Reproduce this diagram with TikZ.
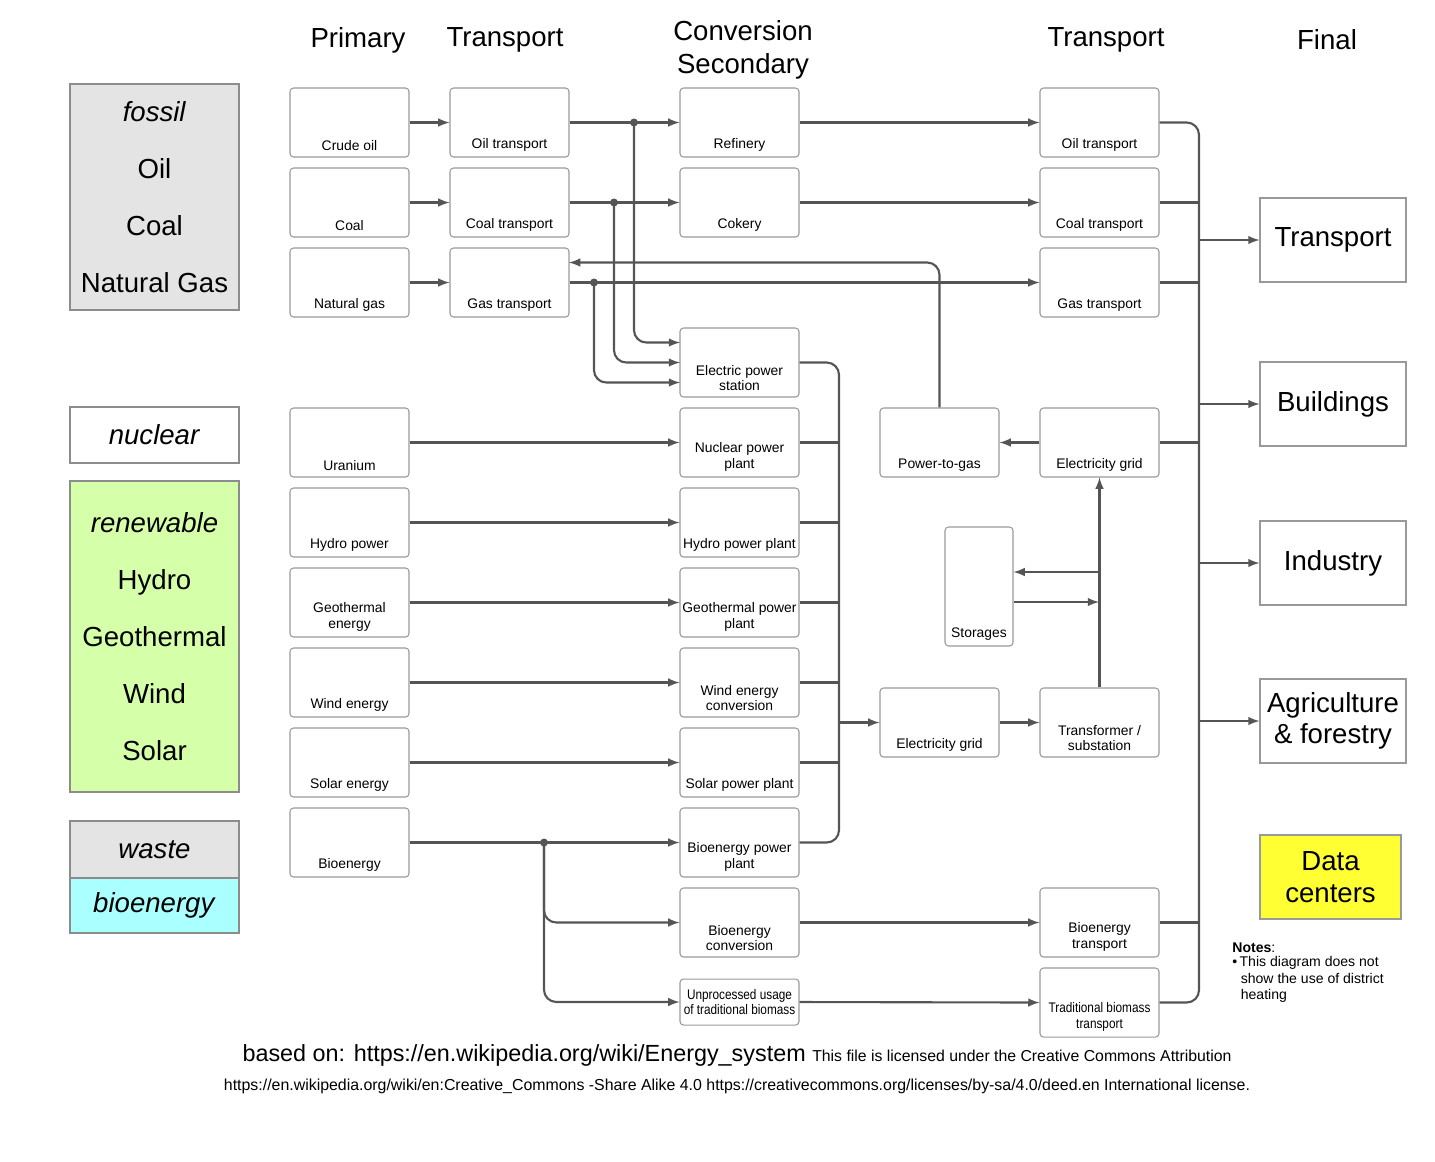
\documentclass[tikz,border=0pt]{standalone}
\usepackage{fontspec}
\setmainfont{Liberation Sans}
\usetikzlibrary{arrows,positioning}
\definecolor{lgray}{RGB}{228,228,228}
\definecolor{lgreen}{RGB}{214,255,170}
\definecolor{lcyan}{RGB}{170,255,255}
\definecolor{lyellow}{RGB}{255,255,51}
\definecolor{dline}{RGB}{85,85,85}
\tikzset{
  box/.style={draw=gray!80, rounded corners=2pt, minimum width=119*0.02cm, minimum height=69*0.02cm, inner sep=0pt, line width=0.6pt},
  lbl/.style={font=\fontsize{7.9}{9}\selectfont, align=center, inner sep=3.5pt, anchor=south},
  big/.style={draw=gray!80, minimum width=146*0.02cm, minimum height=84*0.02cm, inner sep=1pt, font=\fontsize{15.7}{18}\selectfont, align=center, line width=0.6pt},
  side/.style={draw=gray!90, minimum width=169*0.02cm, inner sep=0pt, font=\fontsize{15.7}{19}\selectfont, align=center, line width=0.6pt},
  head/.style={font=\fontsize{15.7}{19}\selectfont, align=center},
  line/.style={draw=dline, line width=1.2pt, rounded corners=7pt},
  arr/.style={line, -latex},
  dot/.style={circle, fill=dline, inner sep=0pt, minimum size=8*0.02cm}
}
\newcommand{\bx}[4]{\node[box, label={[lbl]south:#4}] (#1) at (#2,#3) {};}
\begin{document}
\begin{tikzpicture}[x=0.02cm, y=-0.02cm]
\useasboundingbox (0,0) rectangle (1435,1161);
% headers
\node[head] (hprim) at (358,40) {Primary};
\node[head] (htr1) at (505,40) {Transport};
\node[head] (hconv) at (743,50) {Conversion\\Secondary};
\node[head] (htr2) at (1106,40) {Transport};
\node[head] (hfin) at (1327,40) {Final};
% sources on the left
\node[side, fill=lgray, minimum height=226*0.02cm] (fossil) at (154.5,197) {\textit{fossil}\\[0.47cm]Oil\\[0.47cm]Coal\\[0.47cm]Natural Gas};
\node[side, fill=white, minimum height=56*0.02cm] (nuclear) at (154.5,435) {\textit{nuclear}};
\node[side, fill=lgreen, minimum height=311*0.02cm] (renew) at (154.5,636.5) {\textit{renewable}\\[0.47cm]Hydro\\[0.47cm]Geothermal\\[0.47cm]Wind\\[0.47cm]Solar};
\node[side, fill=lgray, minimum height=57*0.02cm] (waste) at (154.5,849.5) {\textit{waste}};
\node[side, fill=lcyan, minimum height=55*0.02cm] (bio) at (154.5,905.5) {\textit{bioenergy}};
% primary
\bx{crude}{349.5}{122.5}{Crude oil}
\bx{coal}{349.5}{202.5}{Coal}
\bx{ngas}{349.5}{282.5}{Natural gas}
\bx{uran}{349.5}{442.5}{Uranium}
\bx{hydro}{349.5}{522.5}{Hydro power}
\bx{geo}{349.5}{602.5}{Geothermal\\energy}
\bx{wind}{349.5}{682.5}{Wind energy}
\bx{solar}{349.5}{762.5}{Solar energy}
\bx{bioe}{349.5}{842.5}{Bioenergy}
% transport 1
\bx{oilt}{509.5}{122.5}{Oil transport}
\bx{coalt}{509.5}{202.5}{Coal transport}
\bx{gast}{509.5}{282.5}{Gas transport}
% conversion
\bx{refin}{739.5}{122.5}{Refinery}
\bx{coke}{739.5}{202.5}{Cokery}
\bx{eps}{739.5}{362.5}{Electric power\\station}
\bx{npp}{739.5}{442.5}{Nuclear power\\plant}
\bx{hpp}{739.5}{522.5}{Hydro power plant}
\bx{gpp}{739.5}{602.5}{Geothermal power\\plant}
\bx{wec}{739.5}{682.5}{Wind energy\\conversion}
\bx{spp}{739.5}{762.5}{Solar power plant}
\bx{bpp}{739.5}{842.5}{Bioenergy power\\plant}
\bx{bconv}{739.5}{922.5}{Bioenergy\\conversion}
\node[box, minimum height=46*0.02cm, font=\fontsize{7.9}{9}\selectfont\addfontfeature{FakeStretch=0.85}, align=center] (unproc) at (739.5,1002) {Unprocessed usage\\of traditional biomass};
% transport 2 and grid
\bx{oilt2}{1099.5}{122.5}{Oil transport}
\bx{coalt2}{1099.5}{202.5}{Coal transport}
\bx{gast2}{1099.5}{282.5}{Gas transport}
\bx{grid1}{1099.5}{442.5}{Electricity grid}
\bx{p2g}{939.5}{442.5}{Power-to-gas}
\node[box, minimum width=68*0.02cm, minimum height=119*0.02cm, label={[lbl]south:Storages}] (stor) at (979,586.5) {};
\bx{grid2}{939.5}{722.5}{Electricity grid}
\bx{trafo}{1099.5}{722.5}{Transformer /\\substation}
\bx{biot}{1099.5}{922.5}{Bioenergy\\transport}
\node[box, label={[lbl, font=\fontsize{7.9}{9}\selectfont\addfontfeature{FakeStretch=0.85}]south:Traditional biomass\\transport}] (tradt) at (1099.5,1002.5) {};
% final
\node[big] (ftrans) at (1333,240) {Transport};
\node[big] (fbuild) at (1333,404) {Buildings};
\node[big] (findu) at (1333,563) {Industry};
\node[big] (fagri) at (1333,721) {Agriculture\\\& forestry};
\node[big, fill=lyellow, minimum width=141*0.02cm] (fdata) at (1330.5,877) {Data\\centers};
% junctions
\coordinate (jo) at (634,122.5);
\coordinate (jc) at (614,202.5);
\coordinate (jg) at (594,282.5);
\coordinate (jb) at (544,842.5);
\coordinate (ein1) at (680,342.5);
\coordinate (ein2) at (680,362.5);
\coordinate (ein3) at (680,382.5);
\coordinate (gin) at (569,262.5);
\coordinate (busl) at (839,842.5);
\coordinate (busr) at (1199,1002.5);
\coordinate (s1) at (1099,572);
\coordinate (s2) at (1099,602);
% fossil chains
\draw[arr] (crude.east) -- (oilt.west);
\draw[arr] (coal.east) -- (coalt.west);
\draw[arr] (ngas.east) -- (gast.west);
\draw[arr] (oilt.east) -- (refin.west);
\draw[arr] (coalt.east) -- (coke.west);
\draw[arr] (refin.east) -- (oilt2.west);
\draw[arr] (coke.east) -- (coalt2.west);
\draw[arr] (gast.east) -- (gast2.west);
\draw[arr] (jo) |- (ein1);
\draw[arr] (jc) |- (ein2);
\draw[arr] (jg) |- (ein3);
\node[dot] (djo) at (jo) {};
\node[dot] (djc) at (jc) {};
\node[dot] (djg) at (jg) {};
\draw[arr] (p2g.north) |- (gin);
\draw[arr] (grid1.west) -- (p2g.east);
% other primaries
\draw[arr] (uran.east) -- (npp.west);
\draw[arr] (hydro.east) -- (hpp.west);
\draw[arr] (geo.east) -- (gpp.west);
\draw[arr] (wind.east) -- (wec.west);
\draw[arr] (solar.east) -- (spp.west);
\draw[arr] (bioe.east) -- (bpp.west);
\draw[arr] (jb) |- (bconv.west);
\draw[arr] (jb) |- (unproc.west);
\node[dot] (djb) at (jb) {};
\draw[arr] (bconv.east) -- (biot.west);
\draw[arr] (unproc.east) -- (tradt.west);
% power bus
\draw[line] (eps.east) -| (busl) -- (bpp.east);
\foreach \p in {npp,hpp,gpp,wec,spp} \draw[line] (\p.east) -- (\p.east -| busl);
\draw[arr] (grid2.west -| busl) -- (grid2.west);
\draw[arr] (grid2.east) -- (trafo.west);
\draw[arr] (trafo.north) -- (grid1.south);
\draw[arr] (s1) -- (stor.east |- s1);
\draw[arr] (stor.east |- s2) -- (s2);
% final bus
\draw[line] (oilt2.east) -| (busr) -- (tradt.east);
\foreach \p in {coalt2,gast2,grid1,biot} \draw[line] (\p.east) -- (\p.east -| busr);
\foreach \f in {ftrans,fbuild,findu,fagri} \draw[arr] (\f.west -| busr) -- (\f.west);
% notes
\node[anchor=north west, font=\fontsize{8}{9.4}\selectfont, align=left, inner sep=0pt] (notes) at (1232,942) {\textbf{Notes}:\\[-1pt]\textbullet\,This diagram does not\\\hspace{0.6em}show the use of district\\\hspace{0.6em}heating};
% source lines
\node[anchor=base, inner sep=0pt] (src1) at (737,1061) {\fontsize{13.3}{15}\selectfont based on: https://en.wikipedia.org/wiki/Energy\_system \fontsize{9}{11}\selectfont This file is licensed under the Creative Commons Attribution};
\node[anchor=base, inner sep=0pt, font=\fontsize{9.05}{11}\selectfont] (src2) at (737,1090) {https://en.wikipedia.org/wiki/en:Creative\_Commons -Share Alike 4.0 https://creativecommons.org/licenses/by-sa/4.0/deed.en International license.};
\end{tikzpicture}
\end{document}
